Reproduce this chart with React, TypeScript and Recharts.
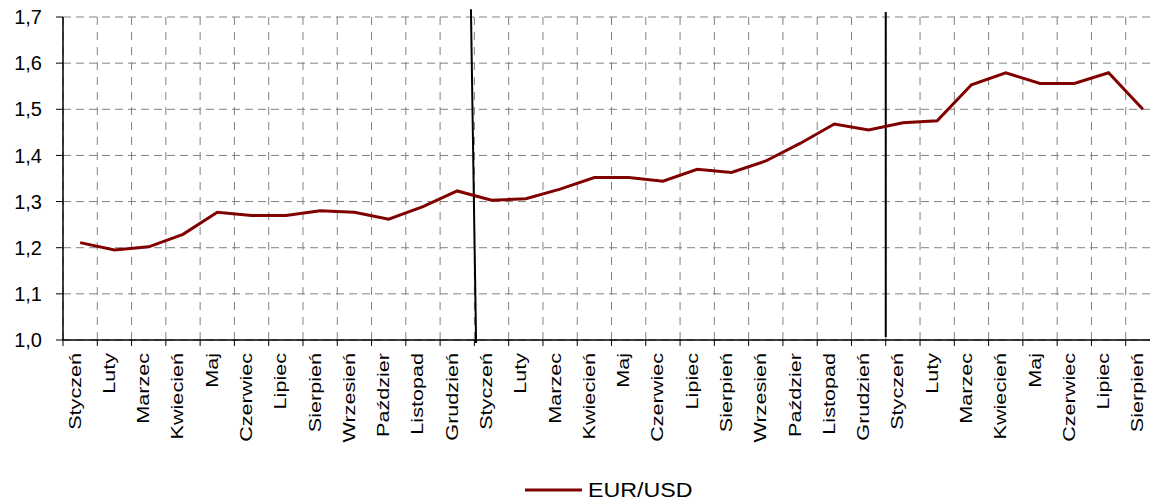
import { LineChart, Line, XAxis, YAxis, CartesianGrid, ReferenceLine, Legend } from 'recharts';

const monthNames = [
  'Styczeń', 'Luty', 'Marzec', 'Kwiecień', 'Maj', 'Czerwiec',
  'Lipiec', 'Sierpień', 'Wrzesień', 'Paździer', 'Listopad', 'Grudzień',
];
const year1Months = monthNames;
const year2Months = monthNames;
const year3Months = monthNames.slice(0, 8);
const categories = [...year1Months, ...year2Months, ...year3Months];

const eurUsd = [
  1.211, 1.195, 1.202, 1.229, 1.277, 1.27, 1.27, 1.28, 1.277, 1.262, 1.289, 1.323,
  1.303, 1.306, 1.327, 1.352, 1.352, 1.344, 1.37, 1.363, 1.388, 1.426, 1.468, 1.455,
  1.471, 1.475, 1.553, 1.579, 1.556, 1.556, 1.579, 1.5,
];

const yTicks = [1.0, 1.1, 1.2, 1.3, 1.4, 1.5, 1.6, 1.7];

// year separators, in axis units (category boundaries)
const yearBreaks = [
  [{ x: 11.9, y: 1.717 }, { x: 12.05, y: 0.9935 }],
  [{ x: 24, y: 1.711 }, { x: 24, y: 1.0065 }],
];

const CHART_W = 1161;
const CHART_H = 502;
const AXIS_W = 63;
const MARGIN_R = 1;
const HALF_CAT = (CHART_W - AXIS_W - MARGIN_R) / categories.length / 2;

const data = categories.map((month, i) => ({ pos: i + 0.5, month, value: eurUsd[i] }));
const xTicks = Array.from({ length: categories.length + 1 }, (_, i) => i);

const fmt = (v: number) => v.toFixed(1).replace('.', ',');

function MonthTick(props: any) {
  const { x, y, payload } = props;
  const label = categories[payload.value];
  if (!label) return null;
  return (
    <text
      transform={`translate(${x + HALF_CAT + 0.5},${y}) rotate(-90) scale(1.35,1)`}
      textAnchor="end"
      fontSize={16}
      fill="#000"
    >
      {label}
    </text>
  );
}

function LegendContent() {
  return (
    <div style={{ display: 'flex', alignItems: 'center', height: 24 }}>
      <svg width={57} height={6} style={{ marginRight: 6 }}>
        <line x1={0} y1={3} x2={56} y2={3} stroke="#800000" strokeWidth={3} strokeLinecap="round" />
      </svg>
      <span
        style={{
          fontSize: 20,
          color: '#000',
          display: 'inline-block',
          transform: 'scaleX(1.16)',
          transformOrigin: 'left center',
          lineHeight: '24px',
        }}
      >
        EUR/USD
      </span>
    </div>
  );
}

export default function App() {
  return (
    <div
      style={{
        margin: '-8px -8px 0 -8px',
        width: 1158,
        height: CHART_H,
        overflow: 'hidden',
        position: 'relative',
        background: '#fff',
        fontFamily: '"Liberation Sans", Arial, sans-serif',
      }}
    >
      <LineChart
        width={CHART_W}
        height={CHART_H}
        data={data}
        margin={{ top: 17, right: MARGIN_R, left: 0, bottom: 0 }}
      >
        <CartesianGrid horizontal vertical={false} stroke="#808080" strokeDasharray="8 5" />
        <CartesianGrid horizontal={false} vertical stroke="#808080" strokeDasharray="8 7" />
        <XAxis
          type="number"
          dataKey="pos"
          domain={[0, categories.length]}
          ticks={xTicks}
          interval={0}
          height={CHART_H - 340}
          axisLine={{ stroke: '#000', strokeWidth: 1.5 }}
          tickLine={{ stroke: '#000' }}
          tickSize={6}
          tickMargin={7}
          tick={<MonthTick />}
        />
        <YAxis
          type="number"
          domain={[1.0, 1.7]}
          ticks={yTicks}
          interval={0}
          width={AXIS_W}
          axisLine={{ stroke: '#000', strokeWidth: 1.5 }}
          tickLine={{ stroke: '#000' }}
          tickSize={7}
          tickMargin={14}
          tickFormatter={fmt}
          tick={{ fontSize: 20, fill: '#000' }}
        />
        {yearBreaks.map((seg, i) => (
          <ReferenceLine key={i} segment={seg} stroke="#000" strokeWidth={2} ifOverflow="visible" />
        ))}
        <Line
          type="linear"
          dataKey="value"
          name="EUR/USD"
          stroke="#800000"
          strokeWidth={3}
          dot={false}
          activeDot={false}
          isAnimationActive={false}
        />
        <Legend
          layout="horizontal"
          verticalAlign="middle"
          align="center"
          content={<LegendContent />}
          wrapperStyle={{ top: 478, left: 525, width: 'auto' }}
        />
      </LineChart>
    </div>
  );
}
